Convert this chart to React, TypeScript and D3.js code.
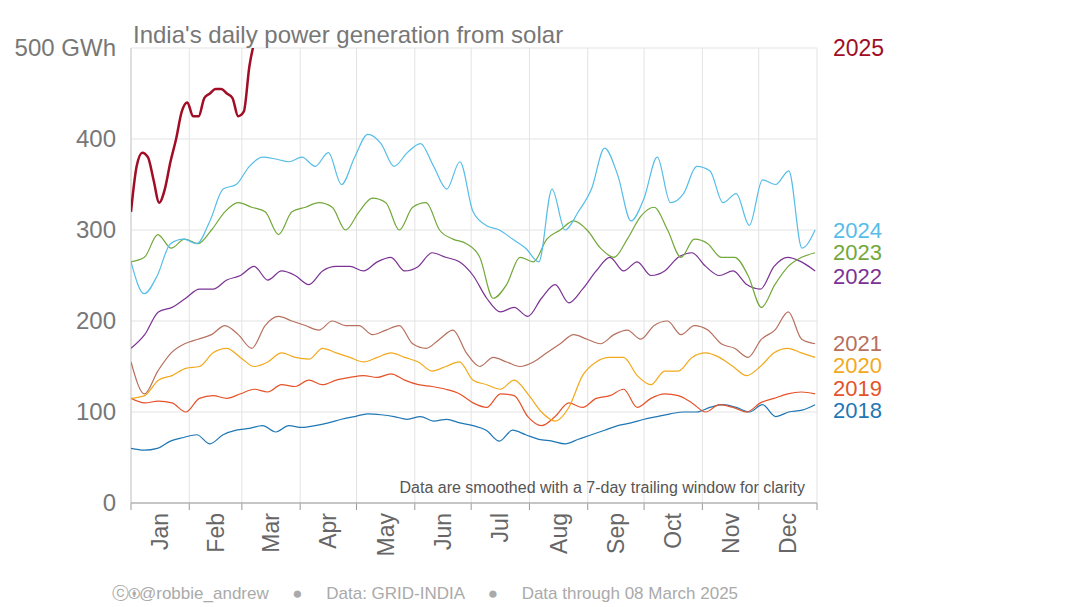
import React from "react";
import * as d3 from "d3";

const months = ["Jan","Feb","Mar","Apr","May","Jun","Jul","Aug","Sep","Oct","Nov","Dec"];
const monthStarts = [1,32,60,91,121,152,182,213,244,274,305,335,366];
const yTicks = [0,100,200,300,400,500];
const years = ["2018","2019","2020","2021","2022","2023","2024"];
const colors = ["#1f77b4","#e5532a","#f2a91c","#b7705e","#7b3294","#72a83a","#55bde8"];
const labelValues = [102,126,152,176,250,276,300];

const v2018 = [60,58,60,68,72,75,65,75,80,82,85,78,85,83,85,88,92,95,98,97,95,92,95,90,92,88,85,80,68,80,75,70,68,65,70,75,80,85,88,92,95,98,100,100,105,108,105,100,108,95,100,102,108];
const v2019 = [115,110,112,110,100,115,118,115,120,125,122,130,128,135,130,135,138,140,138,142,135,130,128,125,120,110,105,120,118,95,85,95,110,105,115,118,125,105,115,120,118,110,100,108,105,100,110,115,120,122,120];
const v2020 = [115,118,135,140,148,150,165,170,160,150,155,165,160,158,170,165,160,155,160,165,160,155,145,150,155,135,130,125,135,120,100,90,105,140,155,160,160,140,130,145,145,160,165,160,150,140,150,165,170,165,160];
const v2021 = [155,120,145,165,175,180,185,195,185,170,195,205,200,195,190,200,195,195,185,190,195,175,170,180,190,165,150,160,155,150,155,165,175,185,180,175,185,190,180,195,200,185,195,190,175,170,160,180,190,210,180,175];
const v2022 = [170,185,210,215,225,235,235,245,250,260,245,255,250,240,255,260,260,255,265,270,255,260,275,270,265,250,225,210,215,205,225,240,220,235,255,270,255,265,250,255,270,275,260,250,255,240,235,260,270,265,255];
const v2023 = [265,270,295,280,290,285,300,320,330,325,320,295,320,325,330,325,300,320,335,330,300,325,330,300,290,285,270,225,240,270,265,290,300,310,300,280,270,290,315,325,300,270,290,285,270,270,250,215,240,260,270,275];
const v2024 = [265,230,250,285,290,285,310,345,350,370,380,378,375,380,370,385,350,380,405,395,370,385,395,370,345,375,320,305,300,290,280,265,345,300,320,345,390,360,310,335,380,330,340,370,365,330,340,305,355,350,365,280,300];
const days2025 = [1,4,7,10,13,16,19,22,25,28,31,34,37,40,43,46,49,52,55,58,61,64,67];
const v2025 = [320,370,385,380,355,330,345,375,400,430,440,425,425,445,450,455,455,450,445,425,430,480,510];

const seriesVals = [v2018,v2019,v2020,v2021,v2022,v2023,v2024];

export default function App() {
  const L = 131, R = 817, T = 48, B = 503;
  const x = d3.scaleLinear().domain([1, 366]).range([L, R]);
  const y = d3.scaleLinear().domain([0, 500]).range([B, T]);
  const font = "Liberation Sans, Arial, sans-serif";
  const mkLine = (vals: number[]) => {
    const n = vals.length;
    return d3.line<number>().x((_, i) => x(1 + (i * 364) / (n - 1))).y((v) => y(v)).curve(d3.curveMonotoneX)(vals) || "";
  };
  const line25 = d3.line<number>().x((_, i) => x(days2025[i])).y((v) => y(v)).curve(d3.curveMonotoneX)(v2025) || "";
  return (
    <svg width={1080} height={607} style={{ position: "absolute", left: 0, top: 0, background: "#fff" }} fontFamily={font}>
      <defs>
        <clipPath id="pc"><rect x={L} y={T} width={R - L} height={B - T} /></clipPath>
      </defs>
      {monthStarts.map((d, i) => (
        <g key={i}>
          <line x1={x(d)} x2={x(d)} y1={T} y2={B} stroke="#e3e3e3" />
          <line x1={x(d)} x2={x(d)} y1={B} y2={B + 7} stroke="#999" />
        </g>
      ))}
      {yTicks.map((t) => (
        <g key={t}>
          <line x1={L} x2={R} y1={y(t)} y2={y(t)} stroke="#e3e3e3" />
          <text x={116} y={y(t) + 8} textAnchor="end" fontSize={24} fill="#777">{t === 500 ? "500 GWh" : t}</text>
        </g>
      ))}
      <line x1={L} x2={L} y1={T} y2={B} stroke="#ccc" />
      <line x1={L} x2={R} y1={B} y2={B} stroke="#999" />
      {months.map((m, i) => {
        const cx = x((monthStarts[i] + monthStarts[i + 1]) / 2);
        return (
          <text key={m} transform={`translate(${cx + 8},${B + 10}) rotate(-90)`} textAnchor="end" fontSize={23} fill="#666">{m}</text>
        );
      })}
      <g clipPath="url(#pc)">
        {seriesVals.map((vals, i) => (
          <path key={i} d={mkLine(vals)} fill="none" stroke={colors[i]} strokeWidth={1.2} />
        ))}
        <path d={line25} fill="none" stroke="#a00d24" strokeWidth={2.5} />
      </g>
      {years.map((yr, i) => (
        <text key={yr} x={833} y={y(labelValues[i]) + 8} fontSize={22} fill={colors[i]}>{yr}</text>
      ))}
      <text x={833} y={56} fontSize={23} fill="#a00d24">2025</text>
      <text x={133} y={43} fontSize={24} fill="#777">India's daily power generation from solar</text>
      <text x={805} y={493} textAnchor="end" fontSize={16} fill="#555">Data are smoothed with a 7-day trailing window for clarity</text>
      <text x={112} y={599} fontSize={17} fill="#aaa" style={{ whiteSpace: "pre" }}>{"ⓒ🅯@robbie_andrew     ●     Data: GRID-INDIA     ●     Data through 08 March 2025"}</text>
    </svg>
  );
}
